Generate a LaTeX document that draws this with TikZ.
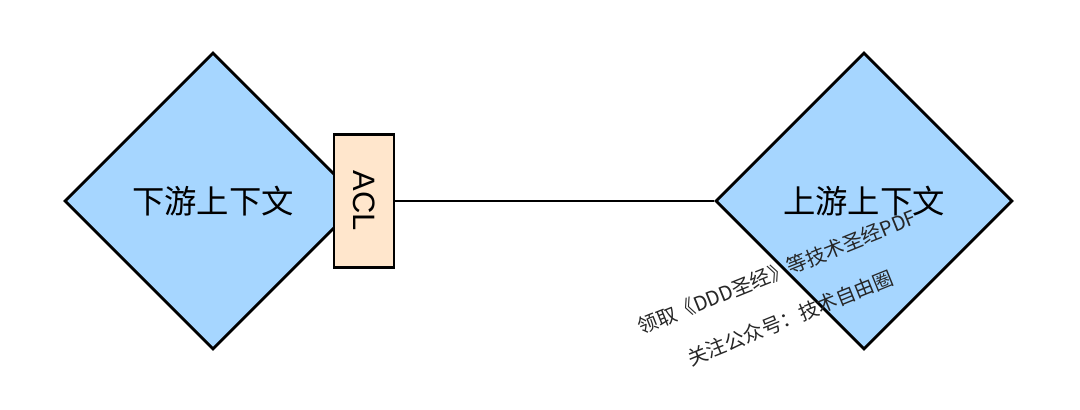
\documentclass[tikz,border=0pt]{standalone}
\usepackage{fontspec}
\setmainfont{Liberation Sans}
\newfontfamily\cjk{Noto Sans CJK SC}
\usepackage{xcolor}
\definecolor{colCtx}{RGB}{166,214,255}
\definecolor{colAcl}{RGB}{255,230,204}
\usepackage{tikz}
\usetikzlibrary{positioning, shapes.geometric}

\begin{document}
\begin{tikzpicture}[x=0.025cm, y=0.025cm, line width=2pt]
	\useasboundingbox (0,0) rectangle (1080,409);
	\tikzset{
		ctxbox/.style={diamond, draw, fill=colCtx, minimum width=297*0.025cm, minimum height=297*0.025cm, inner sep=0pt, aspect=1, font=\cjk\fontsize{23}{27}\selectfont},
		aclbox/.style={draw, fill=colAcl, minimum width=60*0.025cm, minimum height=133*0.025cm, inner sep=0pt},
		markstyle/.style={text=black!85, rotate=22, font=\cjk\fontsize{14.2}{17}\selectfont}
	}
	\node[ctxbox] (down) at (213,208) {下游上下文};
	\node[ctxbox] (up) at (864,208) {上游上下文};
	\node[aclbox] (acl) at (364,208) {};
	\node[rotate=-90, font=\fontsize{22}{26}\selectfont] (acltext) at (acl.center) {ACL};
	\draw (acl.east) -- (up.west);
	% watermark
	\node[markstyle] (mark1) at (777,137) {领取《DDD圣经》等技术圣经PDF};
	\node[markstyle] (mark2) at (790,91) {关注公众号：技术自由圈};
\end{tikzpicture}
\end{document}
